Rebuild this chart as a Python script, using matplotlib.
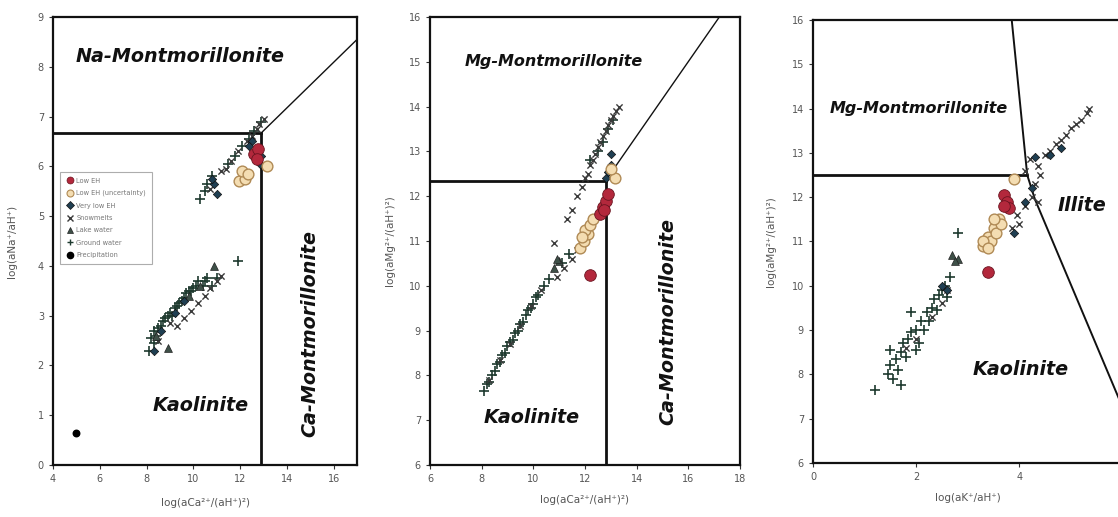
import matplotlib
matplotlib.use("Agg")
import matplotlib.pyplot as plt
from matplotlib.lines import Line2D

plt.rcParams['font.family'] = ['DejaVu Sans']

# ---------------- Panel 1 data: log(aNa+/aH+) vs log(aCa2+/(aH+)^2) ----------------
p1_gw_x = [8.1, 8.2, 8.3, 8.3, 8.4, 8.5, 8.6, 8.7, 8.8, 8.9, 9.0, 9.1, 9.2, 9.3, 9.4, 9.5, 9.6, 9.7, 9.8, 9.9,
           10.0, 10.1, 10.2, 10.4, 10.5, 10.6, 10.8, 11.0, 11.9,
           10.3, 10.5, 10.6, 10.8, 11.5, 11.8, 12.1, 12.4, 12.6, 12.9]
p1_gw_y = [2.3, 2.55, 2.45, 2.7, 2.6, 2.75, 2.8, 2.9, 2.95, 3.0, 3.05, 3.0, 3.15, 3.2, 3.25, 3.3, 3.35, 3.45, 3.5, 3.5,
           3.55, 3.6, 3.7, 3.6, 3.7, 3.75, 3.6, 3.75, 4.1,
           5.35, 5.5, 5.65, 5.8, 6.05, 6.2, 6.4, 6.55, 6.7, 6.9]
p1_snow_x = [9.3, 9.6, 9.9, 10.2, 10.5, 10.7, 11.0, 11.2, 8.5, 9.0,
             10.7, 11.2, 11.6, 11.9, 12.3, 12.7, 12.8, 13.0, 12.5, 11.4]
p1_snow_y = [2.8, 2.95, 3.1, 3.25, 3.4, 3.55, 3.7, 3.8, 2.5, 2.85,
             5.55, 5.9, 6.1, 6.3, 6.5, 6.75, 6.85, 6.95, 6.6, 5.95]
p1_lake_x = [8.9, 10.9, 9.8, 10.3, 8.4]
p1_lake_y = [2.35, 4.0, 3.4, 3.6, 2.6]
p1_vlow_x = [8.3, 8.6, 9.2, 9.6, 10.9, 11.0, 10.8, 12.5, 12.9, 12.85, 12.4]
p1_vlow_y = [2.3, 2.7, 3.05, 3.3, 5.65, 5.45, 5.75, 6.5, 6.2, 6.05, 6.4]
p1_low_x = [12.6, 12.75, 12.7]
p1_low_y = [6.25, 6.35, 6.15]
p1_lowu_x = [11.95, 12.2, 12.1, 12.35, 13.15]
p1_lowu_y = [5.7, 5.75, 5.9, 5.85, 6.0]
p1_prec_x = [5.0]
p1_prec_y = [0.65]

# ---------------- Panel 2 data: log(aMg2+/(aH+)^2) vs log(aCa2+/(aH+)^2) ----------------
p2_gw_x = [8.1, 8.2, 8.3, 8.4, 8.5, 8.6, 8.7, 8.8, 8.9, 9.0, 9.1, 9.2, 9.3, 9.4, 9.5, 9.6, 9.7, 9.8, 9.9, 10.0,
           10.1, 10.2, 10.4, 10.6, 11.1, 11.4, 12.2, 12.5, 12.7, 12.9, 13.1]
p2_gw_y = [7.65, 7.8, 7.85, 8.0, 8.1, 8.25, 8.3, 8.45, 8.5, 8.65, 8.75, 8.8, 8.95, 9.0, 9.15, 9.2, 9.35, 9.45, 9.5, 9.6,
           9.75, 9.8, 10.0, 10.15, 10.5, 10.7, 12.8, 13.0, 13.2, 13.5, 13.7]
p2_snow_x = [8.3, 8.7, 9.1, 9.5, 9.9, 10.3, 10.9, 11.2, 11.5, 11.7,
             10.8, 11.3, 11.5, 11.7, 11.9, 12.0, 12.1, 12.2, 12.3, 12.4, 12.5, 12.6, 12.7, 12.8, 12.9,
             13.0, 13.1, 13.2, 13.3]
p2_snow_y = [7.9, 8.35, 8.7, 9.1, 9.55, 9.9, 10.2, 10.4, 10.6, 10.8,
             10.95, 11.5, 11.7, 12.0, 12.2, 12.4, 12.5, 12.7, 12.8, 12.95, 13.1, 13.2, 13.35, 13.45, 13.6,
             13.7, 13.8, 13.9, 14.0]
p2_lake_x = [10.8, 11.0, 10.9]
p2_lake_y = [10.4, 10.55, 10.6]
p2_vlow_x = [12.8, 13.0, 13.0, 12.9]
p2_vlow_y = [12.4, 12.7, 12.95, 12.55]
p2_low_x = [12.6, 12.7, 12.8, 12.9, 12.75, 12.2]
p2_low_y = [11.6, 11.75, 11.9, 12.05, 11.7, 10.25]
p2_lowu_x = [11.8, 11.95, 12.1, 12.0, 12.2, 12.3, 11.9, 13.15, 13.0]
p2_lowu_y = [10.85, 11.0, 11.15, 11.25, 11.35, 11.5, 11.1, 12.4, 12.6]

# ---------------- Panel 3 data: log(aMg2+/(aH+)^2) vs log(aK+/aH+) ----------------
p3_gw_x = [1.2, 1.45, 1.5, 1.55, 1.6, 1.65, 1.7, 1.75, 1.8, 1.85, 1.9, 1.9, 2.0, 2.05, 2.1, 2.15, 2.2, 2.25, 2.3,
           2.35, 2.4, 2.45, 2.5, 2.55, 2.6, 2.65, 2.8, 1.7, 2.0, 1.5]
p3_gw_y = [7.65, 8.0, 8.2, 7.9, 8.35, 8.1, 8.5, 8.7, 8.4, 8.8, 9.4, 8.95, 9.0, 8.7, 9.2, 9.0, 9.4, 9.2, 9.5,
           9.7, 9.45, 9.8, 9.9, 10.0, 9.75, 10.2, 11.2, 7.75, 8.55, 8.55]
p3_snow_x = [4.2, 4.35, 4.5, 4.6, 4.7, 4.8, 4.9, 5.0, 5.1, 5.2, 5.3, 5.35, 4.1, 4.3, 4.25, 4.1, 3.95, 4.0, 3.85,
             4.4, 4.35, 2.3, 2.5, 2.6, 2.0, 1.8]
p3_snow_y = [12.85, 12.7, 12.95, 13.05, 13.2, 13.3, 13.4, 13.55, 13.65, 13.75, 13.9, 14.0, 12.6, 12.3, 12.0, 11.8,
             11.6, 11.4, 11.3, 12.5, 11.9, 9.3, 9.6, 9.9, 8.8, 8.6]
p3_lake_x = [2.7, 2.8, 2.75]
p3_lake_y = [10.7, 10.6, 10.55]
p3_vlow_x = [4.3, 4.6, 4.8, 4.1, 4.25, 3.9, 2.5, 2.6]
p3_vlow_y = [12.9, 12.95, 13.1, 11.9, 12.2, 11.2, 10.0, 9.9]
p3_low_x = [3.7, 3.75, 3.8, 3.7, 3.4]
p3_low_y = [12.05, 11.9, 11.75, 11.8, 10.3]
p3_lowu_x = [3.3, 3.4, 3.5, 3.6, 3.45, 3.55, 3.65, 3.3, 3.9, 3.5, 3.4]
p3_lowu_y = [10.9, 11.1, 11.3, 11.5, 11.0, 11.2, 11.4, 11.0, 12.4, 11.5, 10.85]

legend_labels = ["Low EH", "Low EH (uncertainty)", "Very low EH", "Snowmelts",
                 "Lake water", "Ground water", "Precipitation"]

# ---------------- styles ----------------
C_GW = '#1e3a2f'
C_SNOW = '#3a3a3a'
C_LAKE = '#3e5048'
C_VLOW = '#1f3f52'
C_LOW = '#b3283c'
C_LOWU_F = '#f4ddb2'
C_LOWU_E = '#b08a55'
C_TXT = '#555555'


def draw_points(ax, gw, snow, lake, vlow, low, lowu, prec=None):
    ax.scatter(*gw, marker='+', s=45, c=C_GW, linewidths=1.2, zorder=3)
    ax.scatter(*snow, marker='x', s=20, c=C_SNOW, linewidths=1.0, zorder=3)
    ax.scatter(*lake, marker='^', s=32, c=C_LAKE, edgecolors='#222', linewidths=0.5, zorder=3)
    ax.scatter(*vlow, marker='D', s=18, c=C_VLOW, edgecolors='#111', linewidths=0.5, zorder=4)
    ax.scatter(*lowu, marker='o', s=60, c=C_LOWU_F, edgecolors=C_LOWU_E, linewidths=1.0, zorder=4)
    ax.scatter(*low, marker='o', s=70, c=C_LOW, edgecolors='#6a1420', linewidths=0.6, zorder=5)
    if prec is not None:
        ax.scatter(*prec, marker='o', s=22, c='black', zorder=5)


def style_axes(ax):
    for sp in ax.spines.values():
        sp.set_linewidth(1.6)
        sp.set_color('#111111')
    ax.tick_params(labelsize=7, colors=C_TXT, length=3, width=0.8)
    ax.tick_params(axis='both', which='both', color='#333')


big_kw = dict(fontsize=13.8, fontweight='bold', fontstyle='italic', color='#111111',
              ha='center', va='center', zorder=6)
small_kw = dict(big_kw, fontsize=11.5)
lab_kw = dict(fontsize=7.5, color=C_TXT)

fig = plt.figure(figsize=(11.18, 5.17), dpi=100)

# Panel 1
ax1 = fig.add_axes([0.0474, 0.1006, 0.272, 0.8665])
ax1.set_xlim(4, 17)
ax1.set_ylim(0, 9)
ax1.set_xticks([4, 6, 8, 10, 12, 14, 16])
ax1.set_yticks(range(0, 10))
ax1.plot([4, 12.9], [6.67, 6.67], color='#111', lw=2.0, zorder=2)
ax1.plot([12.9, 12.9], [0, 6.67], color='#111', lw=2.0, zorder=2)
ax1.plot([12.9, 17], [6.67, 8.55], color='#111', lw=1.0, zorder=2)
draw_points(ax1, (p1_gw_x, p1_gw_y), (p1_snow_x, p1_snow_y), (p1_lake_x, p1_lake_y),
            (p1_vlow_x, p1_vlow_y), (p1_low_x, p1_low_y), (p1_lowu_x, p1_lowu_y), (p1_prec_x, p1_prec_y))
ax1.text(9.43, 8.2, "Na-Montmorillonite", **big_kw)
ax1.text(10.3, 1.2, "Kaolinite", **big_kw)
ax1.text(15.0, 2.65, "Ca-Montmorillonite", rotation=90, **big_kw)
ax1.set_xlabel("log(aCa²⁺/(aH⁺)²)", labelpad=10, **lab_kw)
ax1.set_ylabel("log(aNa⁺/aH⁺)", labelpad=15, **lab_kw)
style_axes(ax1)

handles = [
    Line2D([], [], marker='o', ls='', ms=5, mfc=C_LOW, mec='#6a1420', mew=0.5),
    Line2D([], [], marker='o', ls='', ms=5, mfc=C_LOWU_F, mec=C_LOWU_E, mew=0.8),
    Line2D([], [], marker='D', ls='', ms=4, mfc=C_VLOW, mec='#111', mew=0.5),
    Line2D([], [], marker='x', ls='', ms=4, color=C_SNOW, mew=1.0),
    Line2D([], [], marker='^', ls='', ms=5, mfc=C_LAKE, mec='#222', mew=0.5),
    Line2D([], [], marker='+', ls='', ms=5, color=C_GW, mew=1.0),
    Line2D([], [], marker='o', ls='', ms=4.5, mfc='black', mec='black'),
]
leg = ax1.legend(handles, legend_labels, loc='upper left', bbox_to_anchor=(0.022, 0.655),
                 fontsize=4.8, frameon=True, fancybox=False, borderpad=0.9, labelspacing=0.95,
                 handletextpad=0.3, handlelength=1.3, borderaxespad=0)
leg.get_frame().set_edgecolor('#999999')
leg.get_frame().set_linewidth(0.8)
for t in leg.get_texts():
    t.set_color('#777777')

# Panel 2
ax2 = fig.add_axes([0.3846, 0.1006, 0.2773, 0.8665])
ax2.set_xlim(6, 18)
ax2.set_ylim(6, 16)
ax2.set_xticks([6, 8, 10, 12, 14, 16, 18])
ax2.set_yticks(range(6, 17))
ax2.plot([6, 12.8], [12.35, 12.35], color='#111', lw=2.0, zorder=2)
ax2.plot([12.8, 12.8], [6, 12.35], color='#111', lw=2.0, zorder=2)
ax2.plot([12.8, 17.2], [12.35, 16], color='#111', lw=1.0, zorder=2)
draw_points(ax2, (p2_gw_x, p2_gw_y), (p2_snow_x, p2_snow_y), (p2_lake_x, p2_lake_y),
            (p2_vlow_x, p2_vlow_y), (p2_low_x, p2_low_y), (p2_lowu_x, p2_lowu_y))
ax2.text(10.8, 15.0, "Mg-Montmorillonite", **small_kw)
ax2.text(9.95, 7.05, "Kaolinite", **big_kw)
ax2.text(15.2, 9.2, "Ca-Montmorillonite", rotation=90, **big_kw)
ax2.set_xlabel("log(aCa²⁺/(aH⁺)²)", labelpad=8, **lab_kw)
ax2.set_ylabel("log(aMg²⁺/(aH⁺)²)", labelpad=10, **lab_kw)
style_axes(ax2)

# Panel 3
ax3 = fig.add_axes([0.7272, 0.1045, 0.277, 0.857])
ax3.set_xlim(0, 6)
ax3.set_ylim(6, 16)
ax3.set_xticks([0, 2, 4])
ax3.set_yticks(range(6, 17))
ax3.plot([0, 4.15], [12.5, 12.5], color='#111', lw=2.0, zorder=2)
ax3.plot([3.85, 4.15, 4.3, 6.0], [16, 12.5, 11.95, 7.25], color='#111', lw=1.4, zorder=2)
draw_points(ax3, (p3_gw_x, p3_gw_y), (p3_snow_x, p3_snow_y), (p3_lake_x, p3_lake_y),
            (p3_vlow_x, p3_vlow_y), (p3_low_x, p3_low_y), (p3_lowu_x, p3_lowu_y))
ax3.text(2.04, 14.0, "Mg-Montmorillonite", **small_kw)
ax3.text(5.22, 11.8, "Illite", **big_kw)
ax3.text(4.02, 8.1, "Kaolinite", **big_kw)
ax3.set_xlabel("log(aK⁺/aH⁺)", labelpad=8, **lab_kw)
ax3.set_ylabel("log(aMg²⁺/(aH⁺)²)", labelpad=11, **lab_kw)
style_axes(ax3)

fig.savefig("out.png", dpi=100)
